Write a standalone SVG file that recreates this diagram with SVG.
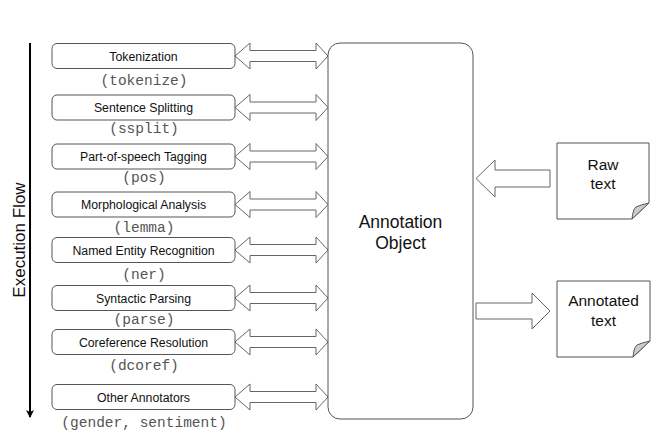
<svg xmlns="http://www.w3.org/2000/svg" width="652" height="431" viewBox="0 0 652 431">
  <style>
    .step { fill: #fff; stroke: #555; stroke-width: 1; }
    .step-label { font-family: "Liberation Sans", Arial, sans-serif; font-size: 12.3px; fill: #111; text-anchor: middle; }
    .code { font-family: "Liberation Mono", "Courier New", monospace; font-size: 14.5px; fill: #555; text-anchor: middle; }
    .link { fill: #fff; stroke: #666; stroke-width: 1; stroke-linejoin: miter; }
    .big-label { font-family: "Liberation Sans", Arial, sans-serif; font-size: 17.5px; fill: #111; text-anchor: middle; }
    .doc { fill: #fff; stroke: #555; stroke-width: 1; }
    .fold { fill: #ccc; stroke: #555; stroke-width: 1; stroke-linejoin: round; }
    .doc-label { font-family: "Liberation Sans", Arial, sans-serif; font-size: 15.5px; fill: #111; text-anchor: middle; }
  </style>
  <defs>
    <!-- two-headed block arrow between an annotator and the annotation object, centred on y=0 -->
    <path id="dbl" class="link" d="M235,0 L250,-13 L250,-5.5 L316,-5.5 L316,-13 L328,0 L316,13 L316,5.5 L250,5.5 L250,13 Z"/>
    <marker id="head" markerWidth="8" markerHeight="8" refX="7" refY="4" orient="auto" markerUnits="userSpaceOnUse">
      <path d="M0,0 L8,4 L0,8 L2,4 Z" fill="#000"/>
    </marker>
  </defs>

  <rect width="652" height="431" fill="#fff"/>

  <!-- execution flow axis -->
  <g id="flow">
    <line x1="30" y1="43" x2="30" y2="417" stroke="#000" stroke-width="2" marker-end="url(#head)"/>
    <text transform="translate(25,240) rotate(-90)" font-family="Liberation Sans, Arial, sans-serif" font-size="17" fill="#111" text-anchor="middle">Execution Flow</text>
  </g>

  <!-- connectors -->
  <g id="connectors">
    <use href="#dbl" transform="translate(0,56)"/>
    <use href="#dbl" transform="translate(0,107.5)"/>
    <use href="#dbl" transform="translate(0,156.5)"/>
    <use href="#dbl" transform="translate(0,204.5)"/>
    <use href="#dbl" transform="translate(0,250)"/>
    <use href="#dbl" transform="translate(0,298)"/>
    <use href="#dbl" transform="translate(0,342)"/>
    <use href="#dbl" transform="translate(0,397)"/>
    <path class="link" d="M476,178.5 L495,160 L495,170 L550,170 L550,187 L495,187 L495,197 Z"/>
    <path class="link" d="M476,303 L532,303 L532,293 L550,311 L532,329 L532,319 L476,319 Z"/>
  </g>

  <!-- annotators -->
  <g id="tokenize">
    <rect class="step" x="52" y="43.5" width="183" height="25" rx="5"/>
    <text class="step-label" x="143.5" y="60.5">Tokenization</text>
    <text class="code" x="144" y="84.5">(tokenize)</text>
  </g>
  <g id="ssplit">
    <rect class="step" x="52" y="95" width="183" height="25" rx="5"/>
    <text class="step-label" x="143.5" y="112">Sentence Splitting</text>
    <text class="code" x="144" y="133">(ssplit)</text>
  </g>
  <g id="pos">
    <rect class="step" x="52" y="144" width="183" height="25" rx="5"/>
    <text class="step-label" x="143.5" y="161">Part-of-speech Tagging</text>
    <text class="code" x="144" y="182">(pos)</text>
  </g>
  <g id="lemma">
    <rect class="step" x="52" y="192" width="183" height="25" rx="5"/>
    <text class="step-label" x="143.5" y="209">Morphological Analysis</text>
    <text class="code" x="144" y="232">(lemma)</text>
  </g>
  <g id="ner">
    <rect class="step" x="52" y="237.5" width="183" height="25" rx="5"/>
    <text class="step-label" x="143.5" y="254.5">Named Entity Recognition</text>
    <text class="code" x="144" y="279">(ner)</text>
  </g>
  <g id="parse">
    <rect class="step" x="52" y="285.5" width="183" height="25" rx="5"/>
    <text class="step-label" x="143.5" y="302.5">Syntactic Parsing</text>
    <text class="code" x="144" y="324">(parse)</text>
  </g>
  <g id="dcoref">
    <rect class="step" x="52" y="329.5" width="183" height="25" rx="5"/>
    <text class="step-label" x="143.5" y="346.5">Coreference Resolution</text>
    <text class="code" x="144" y="370">(dcoref)</text>
  </g>
  <g id="other">
    <rect class="step" x="52" y="384.5" width="183" height="25" rx="5"/>
    <text class="step-label" x="143.5" y="401.5">Other Annotators</text>
    <text class="code" x="144" y="427" font-size="15.5">(gender, sentiment)</text>
  </g>

  <!-- central annotation object -->
  <g id="annotation">
    <rect x="328" y="43" width="145" height="376" rx="12" fill="#fff" stroke="#555" stroke-width="1"/>
    <text class="big-label" x="400.5" y="228">Annotation</text>
    <text class="big-label" x="400.5" y="249">Object</text>
  </g>

  <!-- input document -->
  <g id="raw-text">
    <path class="doc" d="M557,143 H649 V203 L632,219 H557 Z"/>
    <path class="fold" d="M632,219 Q633,209 636,207 Q640,205 649,203 Z"/>
    <text class="doc-label" x="603" y="170">Raw</text>
    <text class="doc-label" x="603" y="189">text</text>
  </g>

  <!-- output document -->
  <g id="annotated-text">
    <path class="doc" d="M557,281 H650 V341 L633,357 H557 Z"/>
    <path class="fold" d="M633,357 Q634,347 637,345 Q641,343 650,341 Z"/>
    <text class="doc-label" x="603.5" y="306">Annotated</text>
    <text class="doc-label" x="603.5" y="326">text</text>
  </g>
</svg>
